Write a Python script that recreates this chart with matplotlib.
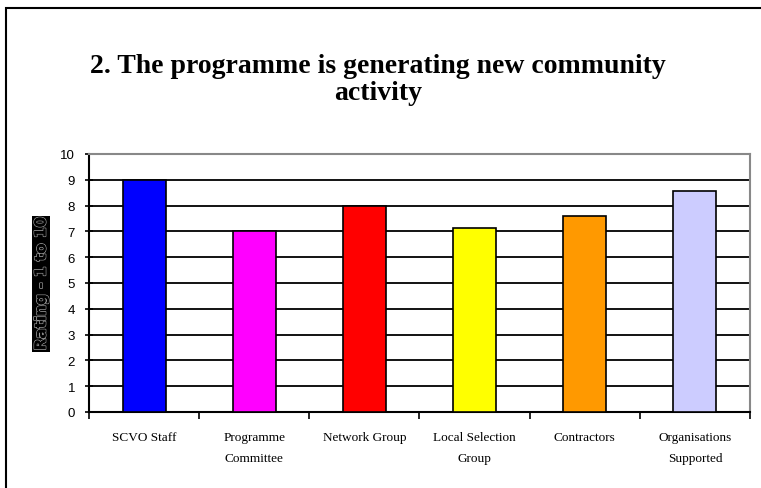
import numpy as np
import matplotlib.pyplot as plt
import matplotlib.patheffects as pe
from matplotlib.patches import Rectangle

groups = ["SCVO Staff", "Programme\nCommittee", "Network Group",
          "Local Selection\nGroup", "Contractors", "Organisations\nSupported"]
ratings = [9.0, 7.0, 8.0, 7.15, 7.6, 8.55]
bar_colours = ["#0000FF", "#FF00FF", "#FF0000", "#FFFF00", "#FF9900", "#CCCCFF"]
yticks = list(range(0, 11))

fig = plt.figure(figsize=(7.61, 4.89), dpi=100)

# outer chart frame (left and top edges show)
fig.patches.append(Rectangle((6 / 761, -0.05), 1.2, (489 - 9) / 489 + 0.05,
                             transform=fig.transFigure, fill=False,
                             edgecolor="black", linewidth=1.5))

ax = fig.add_axes([89 / 761, (489 - 413) / 489, (750 - 89) / 761, (413 - 155) / 489])

x = np.arange(len(groups))
ax.bar(x, ratings, width=0.39, color=bar_colours, edgecolor="black",
       linewidth=1.2, zorder=3)

ax.set_xlim(-0.5, len(groups) - 0.5)
ax.set_ylim(0, 10)
ax.set_yticks(yticks)
ax.set_yticklabels([str(t) for t in yticks], fontsize=9.5, family="Liberation Sans")
for y in yticks[1:-1]:
    ax.axhline(y, color="black", linewidth=1.3, zorder=1)

ax.set_xticks(x)
ax.set_xticklabels(groups, fontsize=9.5, family="Liberation Serif", linespacing=2.0,
                   va="top")
ax.set_xticks(np.arange(-0.5, len(groups)), minor=True)
ax.tick_params(axis="x", which="major", length=0, pad=14)
ax.tick_params(axis="x", which="minor", length=5, width=1.2, direction="out")
ax.tick_params(axis="y", length=6, width=1.2, direction="inout", pad=7)

ax.spines["left"].set_linewidth(1.5)
ax.spines["bottom"].set_linewidth(1.5)
ax.spines["top"].set_color("#888888")
ax.spines["right"].set_color("#888888")
ax.spines["top"].set_linewidth(1.5)
ax.spines["right"].set_linewidth(1.5)

fig.text(0.497, 1 - 80 / 489,
         "2. The programme is generating new community\nactivity",
         ha="center", va="center", fontsize=20, fontweight="bold",
         family="Liberation Serif", linespacing=1.15)

lbl = fig.text(41 / 761, 1 - 285 / 489, "Rating - 1 to 10", rotation=90,
               ha="center", va="center", fontsize=11, fontweight="bold",
               family="DejaVu Sans", color="black",
               bbox=dict(facecolor="black", edgecolor="none", pad=1.0))
lbl.set_path_effects([pe.withStroke(linewidth=1.2, foreground="#999999"),
                      pe.Normal()])

fig.savefig("out.png", dpi=100)
